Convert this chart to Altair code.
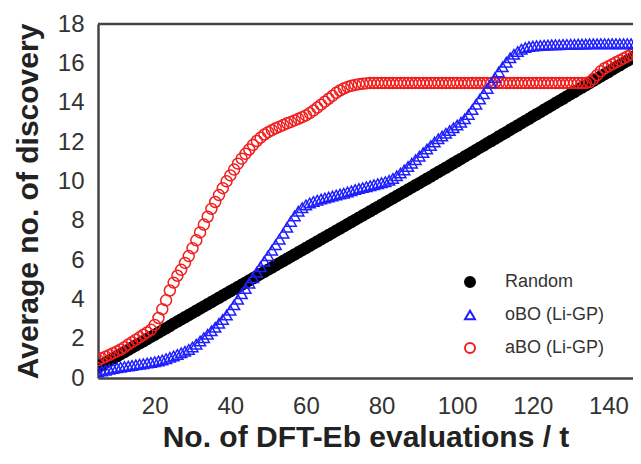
import altair as alt
import pandas as pd

# evaluation index t
t_values = list(range(5, 151))

# Random (black filled circles), t = 5..150
random_vals = [
    0.55, 0.66, 0.77, 0.88, 0.99, 1.10, 1.21, 1.32, 1.43, 1.54,
    1.65, 1.76, 1.87, 1.98, 2.09, 2.20, 2.31, 2.42, 2.53, 2.64,
    2.76, 2.87, 2.98, 3.09, 3.20, 3.31, 3.42, 3.53, 3.64, 3.75,
    3.86, 3.97, 4.08, 4.19, 4.30, 4.41, 4.52, 4.63, 4.74, 4.85,
    4.96, 5.07, 5.18, 5.29, 5.40, 5.51, 5.62, 5.73, 5.84, 5.95,
    6.06, 6.17, 6.28, 6.39, 6.50, 6.61, 6.72, 6.83, 6.94, 7.05,
    7.16, 7.27, 7.38, 7.49, 7.60, 7.71, 7.82, 7.93, 8.04, 8.15,
    8.26, 8.37, 8.48, 8.59, 8.70, 8.81, 8.92, 9.03, 9.14, 9.25,
    9.36, 9.47, 9.58, 9.69, 9.80, 9.91, 10.02, 10.13, 10.24, 10.36,
    10.47, 10.58, 10.69, 10.80, 10.92, 11.03, 11.14, 11.26, 11.37, 11.48,
    11.60, 11.71, 11.82, 11.94, 12.05, 12.16, 12.28, 12.39, 12.50, 12.62,
    12.73, 12.84, 12.96, 13.07, 13.18, 13.30, 13.41, 13.52, 13.64, 13.75,
    13.86, 13.98, 14.09, 14.20, 14.32, 14.43, 14.54, 14.66, 14.77, 14.88,
    15.00, 15.11, 15.22, 15.34, 15.45, 15.56, 15.68, 15.79, 15.90, 16.02,
    16.13, 16.24, 16.36, 16.47, 16.58, 16.70,
]

# oBO (Li-GP) (blue open triangles), t = 5..150
obo_vals = [
    0.30, 0.35, 0.40, 0.44, 0.48, 0.52, 0.55, 0.58, 0.61, 0.64,
    0.67, 0.70, 0.73, 0.76, 0.79, 0.83, 0.87, 0.92, 0.98, 1.05,
    1.12, 1.20, 1.28, 1.36, 1.45, 1.58, 1.72, 1.88, 2.05, 2.22,
    2.40, 2.58, 2.78, 2.98, 3.20, 3.45, 3.72, 4.00, 4.28, 4.55,
    4.82, 5.10, 5.38, 5.66, 5.94, 6.22, 6.50, 6.78, 7.06, 7.36,
    7.66, 7.96, 8.24, 8.48, 8.66, 8.80, 8.90, 8.98, 9.04, 9.10,
    9.15, 9.20, 9.25, 9.30, 9.35, 9.40, 9.46, 9.52, 9.58, 9.63,
    9.68, 9.73, 9.78, 9.83, 9.88, 9.93, 9.98, 10.05, 10.15, 10.28,
    10.42, 10.58, 10.75, 10.92, 11.10, 11.28, 11.46, 11.64, 11.82, 12.00,
    12.16, 12.30, 12.44, 12.58, 12.72, 12.86, 13.00, 13.18, 13.40, 13.65,
    13.92, 14.18, 14.45, 14.72, 15.00, 15.28, 15.56, 15.82, 16.06, 16.28,
    16.46, 16.60, 16.72, 16.80, 16.85, 16.88, 16.90, 16.91, 16.92, 16.93,
    16.94, 16.95, 16.95, 16.96, 16.96, 16.97, 16.97, 16.98, 16.98, 16.98,
    16.99, 16.99, 16.99, 17.00, 17.00, 17.00, 17.00, 17.00, 17.00, 17.00,
    17.00, 17.00, 17.00, 17.00, 17.00, 17.00,
]

# aBO (Li-GP) (red open circles), t = 5..150
abo_vals = [
    0.90, 1.00, 1.08, 1.17, 1.26, 1.35, 1.45, 1.57, 1.70, 1.82,
    1.95, 2.07, 2.20, 2.32, 2.45, 2.70, 3.05, 3.50, 3.95, 4.45,
    4.85, 5.20, 5.50, 5.85, 6.20, 6.60, 7.00, 7.40, 7.80, 8.20,
    8.60, 8.95, 9.30, 9.65, 10.00, 10.30, 10.60, 10.90, 11.15, 11.40,
    11.62, 11.85, 12.05, 12.22, 12.38, 12.50, 12.60, 12.70, 12.78, 12.86,
    12.95, 13.02, 13.10, 13.18, 13.26, 13.35, 13.47, 13.60, 13.75, 13.90,
    14.05, 14.20, 14.35, 14.50, 14.62, 14.72, 14.80, 14.86, 14.90, 14.94,
    14.96, 14.98, 15.00, 15.00, 15.00, 15.00, 15.00, 15.00, 15.00, 15.00,
    15.00, 15.00, 15.00, 15.00, 15.00, 15.00, 15.00, 15.00, 15.00, 15.00,
    15.00, 15.00, 15.00, 15.00, 15.00, 15.00, 15.00, 15.00, 15.00, 15.00,
    15.00, 15.00, 15.00, 15.00, 15.00, 15.00, 15.00, 15.00, 15.00, 15.00,
    15.00, 15.00, 15.00, 15.00, 15.00, 15.00, 15.00, 15.00, 15.00, 15.00,
    15.00, 15.00, 15.00, 15.00, 15.00, 15.00, 15.00, 15.00, 15.00, 15.00,
    15.05, 15.20, 15.40, 15.60, 15.75, 15.85, 15.95, 16.05, 16.15, 16.25,
    16.35, 16.45, 16.55, 16.65, 16.75, 16.85,
]

series_names = ["Random", "oBO (Li-GP)", "aBO (Li-GP)"]
shapes = ["circle", "triangle-up", "circle"]
strokes = ["#000000", "#1f1fff", "#f01e1e"]
fills = ["#000000", "transparent", "transparent"]
x_ticks = [20, 40, 60, 80, 100, 120, 140]
y_ticks = [0, 2, 4, 6, 8, 10, 12, 14, 16, 18]
x_domain = [5, 146.5]
y_domain = [0, 18]

rows = []
# drawing order: Random at bottom, then aBO, oBO on top
for name, vals in [("Random", random_vals), ("aBO (Li-GP)", abo_vals), ("oBO (Li-GP)", obo_vals)]:
    for t, v in zip(t_values, vals):
        rows.append({"t": t, "v": v, "series": name})
df = pd.DataFrame(rows)

FONT = "Liberation Sans"
FRAME = "#444444"

legend = alt.Legend(
    title=None,
    orient="none",
    legendX=363,
    legendY=249,
    symbolSize=100,
    symbolStrokeWidth=2,
    labelFont=FONT,
    labelFontSize=18,
    labelColor="#333333",
    labelOffset=26,
    rowPadding=15,
    padding=0,
)

xscale = alt.Scale(domain=x_domain, nice=False, zero=False)
yscale = alt.Scale(domain=y_domain, nice=False)
yaxis = alt.Axis(values=y_ticks, title="Average no. of discovery",
                 labelPadding=14, titlePadding=14, labelOverlap=False)

points = (
    alt.Chart(df)
    .mark_point(size=120, strokeWidth=1.5, opacity=1, clip=True)
    .encode(
        x=alt.X(
            "t:Q",
            scale=xscale,
            axis=alt.Axis(values=x_ticks, title="No. of DFT-Eb evaluations / t",
                          labelPadding=16, titlePadding=4, labelOverlap=False),
        ),
        y=alt.Y("v:Q", scale=yscale, axis=yaxis),
        shape=alt.Shape("series:N", scale=alt.Scale(domain=series_names, range=shapes), legend=legend),
        stroke=alt.Stroke("series:N", scale=alt.Scale(domain=series_names, range=strokes), legend=legend),
        fill=alt.Fill("series:N", scale=alt.Scale(domain=series_names, range=fills), legend=legend),
    )
)

# top frame line at the y-axis maximum
top_frame = (
    alt.Chart(pd.DataFrame({"v": [y_domain[1]]}))
    .mark_rule(color=FRAME, strokeWidth=2.5)
    .encode(y=alt.Y("v:Q", scale=yscale, axis=yaxis))
)

chart = (
    alt.layer(points, top_frame)
    .properties(
        width=535,
        height=354,
        padding={"left": 90, "top": 16, "right": 0, "bottom": 78},
        autosize=alt.AutoSizeParams(type="none"),
    )
    .configure_view(stroke=None)
    .configure_axis(
        domain=True,
        domainColor=FRAME,
        domainWidth=2.5,
        ticks=False,
        grid=False,
        labelOverlap=False,
        labelFont=FONT,
        labelFontSize=24,
        labelColor="#333333",
        titleFont=FONT,
        titleFontSize=30,
        titleFontWeight="bold",
        titleColor="#222222",
    )
)

chart.save("out.html", embed_options={"renderer": "svg", "actions": False})
